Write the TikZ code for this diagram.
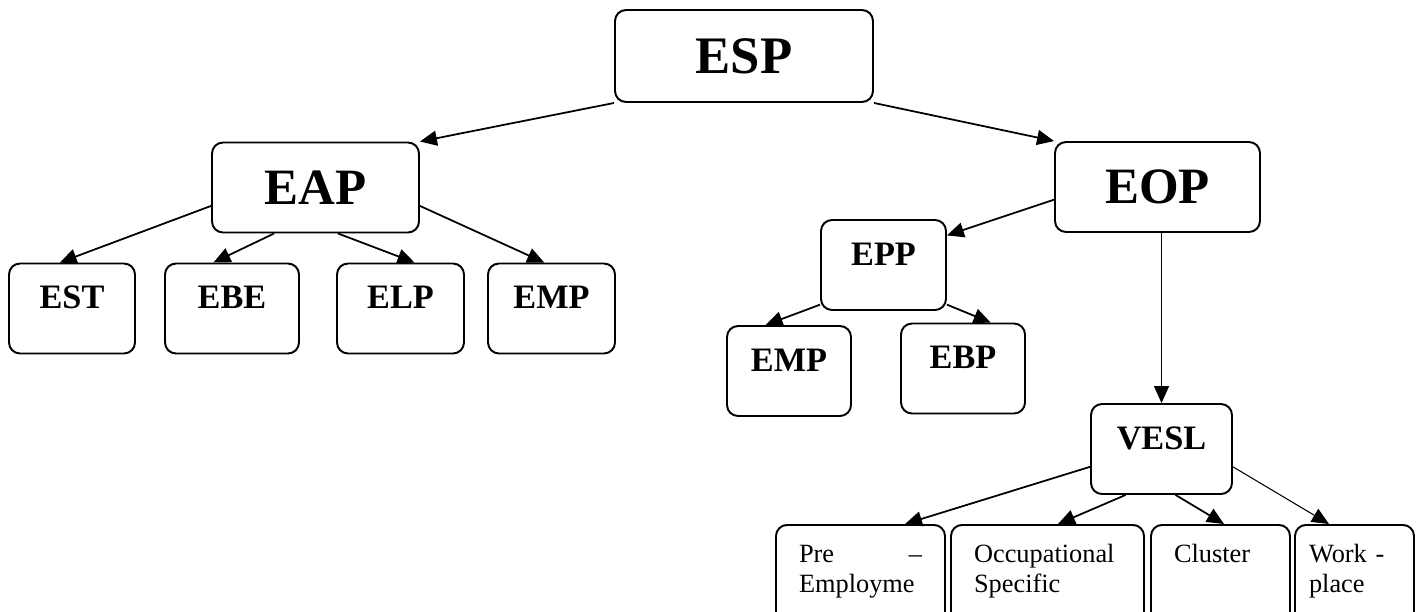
\documentclass[tikz,border=0pt]{standalone}
\usepackage{fontspec}
\setmainfont{Liberation Serif}
\usetikzlibrary{arrows.meta, calc}

\begin{document}
\begin{tikzpicture}[x=0.02cm, y=-0.02cm,
    box/.style={draw, line width=1.1pt, rounded corners=0.22cm, inner sep=0pt, minimum height=1.8cm},
    head/.style={box, font=\fontsize{29}{34}\selectfont\bfseries},
    leaf/.style={box, font=\fontsize{19.5}{23}\selectfont\bfseries, text height=0.9cm, text depth=0.9cm},
    subbox/.style={draw, line width=1.1pt, rounded corners=0.22cm, anchor=north, inner xsep=0.46cm, inner ysep=0pt,
        text height=0.76cm, text depth=1.6cm, align=left, font=\fontsize{15}{17}\selectfont},
    arr/.style={-{Triangle[length=0.34cm, width=0.3cm]}, line width=1pt}]
    \useasboundingbox (0,0) rectangle (1428,612);

    % top levels
    \node [head, font=\fontsize{30}{36}\selectfont\bfseries, minimum width=5.16cm, minimum height=1.84cm] (esp) at (744,56) {ESP};
    \node [head, minimum width=4.14cm] (eap) at (315.5,187.5) {EAP};
    \node [head, minimum width=4.1cm] (eop) at (1157.5,187) {EOP};

    % EAP branch
    \node [leaf, minimum width=2.52cm] (est) at (72,308.5) {EST};
    \node [leaf, minimum width=2.68cm] (ebe) at (232,308.5) {EBE};
    \node [leaf, minimum width=2.54cm] (elp) at (400.5,308.5) {ELP};
    \node [leaf, minimum width=2.54cm] (emp) at (551.5,308.5) {EMP};

    % EOP branch
    \node [leaf, minimum width=2.5cm] (epp) at (883.5,265) {EPP};
    \node [leaf, minimum width=2.48cm] (empb) at (789,371) {EMP};
    \node [leaf, minimum width=2.48cm] (ebp) at (963,368.5) {EBP};
    \node [leaf, minimum width=2.82cm] (vesl) at (1161.5,449) {VESL};

    \node [subbox, text width=2.46cm] (pre) at (860.5,524) {Pre\hfill --\\Employme};
    \node [subbox, text width=2.94cm] (occ) at (1047.5,524) {Occupational\\Specific};
    \node [subbox, text width=1.86cm] (clu) at (1220.5,524) {Cluster};
    \node [subbox, inner xsep=0.28cm, text width=1.82cm] (work) at (1354.5,524) {Work -\\place};

    \draw [arr] (esp.south west) -- (eap.north east);
    \draw [arr] (esp.south east) -- (eop.north west);
    \draw [arr] (eap.190) -- (est.105);
    \draw [arr] (eap.228) -- (ebe.112);
    \draw [arr] (eap.296) -- (elp.73);
    \draw [arr] (eap.350) -- (emp.99);
    \draw [arr] (eop.187) -- (epp.25);
    \draw [arr, line width=0.8pt] (eop.south -| vesl.north) -- (vesl.north);
    \draw [arr] (epp.212) -- (empb.117);
    \draw [arr] (epp.328) -- (ebp.59);
    \draw [arr] (vesl.194) -- ($(pre.north)+(44.5,0)$);
    \draw [arr] (vesl.232) -- ($(occ.north)+(10.5,0)$);
    \draw [arr] (vesl.287) -- ($(clu.north)+(3.5,0)$);
    \draw [arr, line width=0.6pt] (vesl.346) -- ($(work.north)+(-25.5,0)$);
\end{tikzpicture}
\end{document}
